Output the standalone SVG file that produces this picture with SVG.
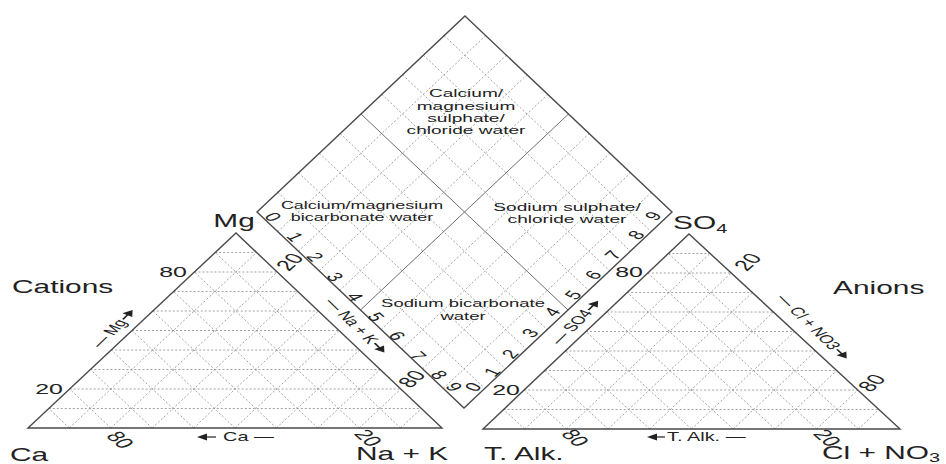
<svg xmlns="http://www.w3.org/2000/svg" width="946" height="464" viewBox="0 0 946 464">
<style>
.edge{fill:none;stroke:#4a4a4a;stroke-width:1.4;stroke-linejoin:miter}
.grid{fill:none;stroke:#8c8c8c;stroke-width:0.8;stroke-dasharray:2 2}
.mid{fill:none;stroke:#6e6e6e;stroke-width:1}
.t{font-family:"Liberation Sans",Arial,Helvetica,sans-serif;fill:#222}
.big{font-size:18px}
.num{font-size:15px}
.dig{font-size:13px}
.small{font-size:11.5px}
.zone{font-size:11.5px}
.arr{fill:#222;stroke:none}
.shaft{stroke:#222;stroke-width:1.2;fill:none}
</style>
<rect width="946" height="464" fill="#fff"/>

<g id="connectors">
  <g id="cation-grid">
    <path class="grid" d="M48.8,408.5H421.4M69.6,389H400.8M90.4,369.5H380.2M111.2,350H359.6M132,330.5H339M152.8,311H318.4M173.6,291.5H297.8M194.4,272H277.2M215.2,252.5H256.6"/>
    <path class="grid" d="M69.4,428L256.6,252.5M110.8,428L277.2,272M152.2,428L297.8,291.5M193.6,428L318.4,311M235,428L339,330.5M276.4,428L359.6,350M317.8,428L380.2,369.5M359.2,428L400.8,389M400.6,428L421.4,408.5"/>
    <path class="grid" d="M69.4,428L48.8,408.5M110.8,428L69.6,389M152.2,428L90.4,369.5M193.6,428L111.2,350M235,428L132,330.5M276.4,428L152.8,311M317.8,428L173.6,291.5M359.2,428L194.4,272M400.6,428L215.2,252.5"/>
  </g>
  <g id="anion-grid">
    <path class="grid" d="M503.6,409.5H878.9M524.2,390H857.8M544.8,370.5H836.7M565.4,351H815.6M586,331.5H794.5M606.6,312H773.4M627.2,292.5H752.3M647.8,273H731.2M668.4,253.5H710.1"/>
    <path class="grid" d="M524.7,429L710.1,253.5M566.4,429L731.2,273M608.1,429L752.3,292.5M649.8,429L773.4,312M691.5,429L794.5,331.5M733.2,429L815.6,351M774.9,429L836.7,370.5M816.6,429L857.8,390M858.3,429L878.9,409.5"/>
    <path class="grid" d="M524.7,429L503.6,409.5M566.4,429L524.2,390M608.1,429L544.8,370.5M649.8,429L565.4,351M691.5,429L586,331.5M733.2,429L606.6,312M774.9,429L627.2,292.5M816.6,429L647.8,273M858.3,429L668.4,253.5"/>
  </g>
  <g id="diamond-grid">
    <path class="grid" d="M277.7,231.6L485.7,35.6M298.4,251.2L506.4,55.2M319.1,270.8L527.1,74.8M339.8,290.4L547.8,94.4M381.2,329.6L589.2,133.6M401.9,349.2L609.9,153.2M422.6,368.8L630.6,172.8M443.3,388.4L651.3,192.4"/>
    <path class="grid" d="M277.8,192.4L484.8,388.4M298.6,172.8L505.6,368.8M319.4,153.2L526.4,349.2M340.2,133.6L547.2,329.6M381.8,94.4L588.8,290.4M402.6,74.8L609.6,270.8M423.4,55.2L630.4,251.2M444.2,35.6L651.2,231.6"/>
    <path class="mid" d="M360.5,310L568.5,114M361,114L568,310"/>
  </g>
</g>

<g id="cation-triangle">
  <polygon class="edge" points="28,428 442,428 236,233"/>
</g>
<g id="anion-triangle">
  <polygon class="edge" points="483,429 900,429 689,234"/>
</g>
<g id="diamond">
  <polygon class="edge" points="465,16 672,212 464,408 257,212"/>
  <g class="t zone" text-anchor="middle">
    <text transform="matrix(1.66,0,0,1,466,97)">Calcium/</text>
    <text transform="matrix(1.66,0,0,1,466,109.5)">magnesium</text>
    <text transform="matrix(1.66,0,0,1,466,122)">sulphate/</text>
    <text transform="matrix(1.66,0,0,1,466,134)">chloride water</text>
    <text transform="matrix(1.66,0,0,1,362,209)" font-size="10.8">Calcium/magnesium</text>
    <text transform="matrix(1.66,0,0,1,362,221)" font-size="10.8">bicarbonate water</text>
    <text transform="matrix(1.66,0,0,1,567,211)">Sodium sulphate/</text>
    <text transform="matrix(1.66,0,0,1,567,223)">chloride water</text>
    <text transform="matrix(1.66,0,0,1,463,307)" font-size="11.1">Sodium bicarbonate</text>
    <text transform="matrix(1.66,0,0,1,463,320)" font-size="11.1">water</text>
  </g>
  <g class="t dig" text-anchor="middle">
    <text transform="matrix(1.66,0,0,1,273,217) rotate(55)" y="4.5">0</text>
    <text transform="matrix(1.66,0,0,1,295,237) rotate(55)" y="4.5">1</text>
    <text transform="matrix(1.66,0,0,1,315,257) rotate(55)" y="4.5">2</text>
    <text transform="matrix(1.66,0,0,1,335,277) rotate(55)" y="4.5">3</text>
    <text transform="matrix(1.66,0,0,1,355,297) rotate(55)" y="4.5">4</text>
    <text transform="matrix(1.66,0,0,1,376,317) rotate(55)" y="4.5">5</text>
    <text transform="matrix(1.66,0,0,1,397,336) rotate(55)" y="4.5">6</text>
    <text transform="matrix(1.66,0,0,1,418,356) rotate(55)" y="4.5">7</text>
    <text transform="matrix(1.66,0,0,1,439,375) rotate(55)" y="4.5">8</text>
    <text transform="matrix(1.66,0,0,1,454,387) rotate(55)" y="4.5">9</text>
    <text transform="matrix(1.66,0,0,1,473,387) rotate(-55)" y="4.5">0</text>
    <text transform="matrix(1.66,0,0,1,492,372) rotate(-55)" y="4.5">1</text>
    <text transform="matrix(1.66,0,0,1,510,354) rotate(-55)" y="4.5">2</text>
    <text transform="matrix(1.66,0,0,1,530,333) rotate(-55)" y="4.5">3</text>
    <text transform="matrix(1.66,0,0,1,552,312) rotate(-55)" y="4.5">4</text>
    <text transform="matrix(1.66,0,0,1,573,295) rotate(-55)" y="4.5">5</text>
    <text transform="matrix(1.66,0,0,1,593,275) rotate(-55)" y="4.5">6</text>
    <text transform="matrix(1.66,0,0,1,613,255) rotate(-55)" y="4.5">7</text>
    <text transform="matrix(1.66,0,0,1,636,235) rotate(-55)" y="4.5">8</text>
    <text transform="matrix(1.66,0,0,1,653,216) rotate(-55)" y="4.5">9</text>
  </g>
</g>

<g id="cation-labels" class="t">
  <text class="big" transform="matrix(1.66,0,0,1,12,293)">Cations</text>
  <text class="big" transform="matrix(1.66,0,0,1,234,227)" text-anchor="middle" font-size="17">Mg</text>
  <text class="big" transform="matrix(1.66,0,0,1,10,461)">Ca</text>
  <text class="big" transform="matrix(1.66,0,0,1,356,460)">Na + K</text>
  <g class="num" text-anchor="middle">
    <text transform="matrix(1.66,0,0,1,173,277)">80</text>
    <text transform="matrix(1.66,0,0,1,49,394)">20</text>
    <text transform="matrix(1.66,0,0,1,120,440) rotate(55)" y="5">80</text>
    <text transform="matrix(1.66,0,0,1,368,438) rotate(55)" y="5">20</text>
    <text transform="matrix(1.66,0,0,1,290,262) rotate(-55)" y="5">20</text>
    <text transform="matrix(1.66,0,0,1,412,379) rotate(-55)" y="5">80</text>
  </g>
  <g transform="matrix(1.66,0,0,1,115,327) rotate(-58)">
    <text class="small" x="8" y="4" text-anchor="end">— Mg</text>
    <path class="shaft" d="M9,0H15"/><polygon class="arr" points="14,-3.5 20,0 14,3.5"/>
  </g>
  <g transform="matrix(1.66,0,0,1,358,327) rotate(58)">
    <text class="small" x="18" y="4" text-anchor="end">— Na + K</text>
    <path class="shaft" d="M19,0H25"/><polygon class="arr" points="24,-3.5 30,0 24,3.5"/>
  </g>
  <g>
    <polygon class="arr" points="197,437 207,433.5 207,440.5"/><path class="shaft" d="M206,437H216"/>
    <text class="t" font-size="12" transform="matrix(1.66,0,0,1,223,441)">Ca —</text>
  </g>
</g>

<g id="anion-labels" class="t">
  <text class="big" transform="matrix(1.66,0,0,1,833,294)">Anions</text>
  <text class="big" transform="matrix(1.66,0,0,1,673,229)" font-size="17">SO<tspan font-size="12" dy="4">4</tspan></text>
  <text class="big" transform="matrix(1.66,0,0,1,484,460)" font-size="16.5">T. Alk.</text>
  <text class="big" transform="matrix(1.66,0,0,1,822,459)" font-size="17.3">Cl + NO<tspan font-size="12" dy="3">3</tspan></text>
  <g class="num" text-anchor="middle">
    <text transform="matrix(1.66,0,0,1,629,277)">80</text>
    <text transform="matrix(1.66,0,0,1,506,395)">20</text>
    <text transform="matrix(1.66,0,0,1,575,438) rotate(55)" y="5">80</text>
    <text transform="matrix(1.66,0,0,1,827,438) rotate(55)" y="5">20</text>
    <text transform="matrix(1.66,0,0,1,748,262) rotate(-55)" y="5">20</text>
    <text transform="matrix(1.66,0,0,1,872,383) rotate(-55)" y="5">80</text>
  </g>
  <g transform="matrix(1.66,0,0,1,577,321) rotate(-58)">
    <text class="small" x="12" y="4" text-anchor="end">— SO4</text>
    <path class="shaft" d="M13,0H19"/><polygon class="arr" points="18,-3.5 24,0 18,3.5"/>
  </g>
  <g transform="matrix(1.66,0,0,1,815,328) rotate(58)">
    <text class="small" x="24" y="4" text-anchor="end">— Cl + NO3</text>
    <path class="shaft" d="M25,0H31"/><polygon class="arr" points="30,-3.5 36,0 30,3.5"/>
  </g>
  <g>
    <polygon class="arr" points="647,437 657,433.5 657,440.5"/><path class="shaft" d="M656,437H665"/>
    <text class="t" font-size="12" transform="matrix(1.66,0,0,1,667,441)">T. Alk. —</text>
  </g>
</g>
</svg>
